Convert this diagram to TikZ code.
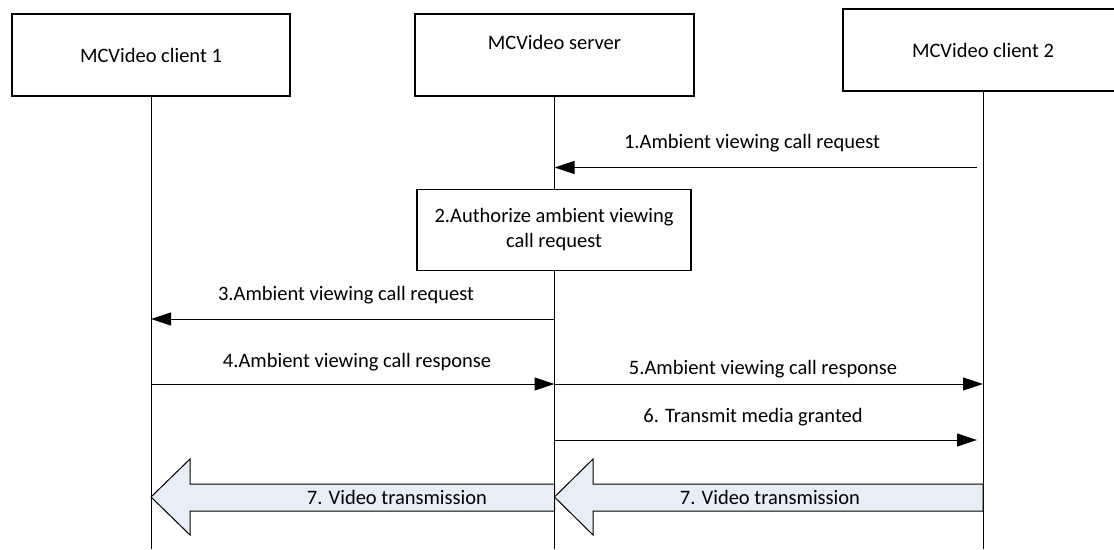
\documentclass[tikz,border=0pt]{standalone}
\usepackage{fontspec}
\setmainfont{Carlito}
\usepackage{xcolor}
\usetikzlibrary{arrows.meta, positioning, calc}

\definecolor{vidfill}{RGB}{231,238,248}
\newcommand{\msgfont}{\fontsize{20.5}{25}\selectfont}

\begin{document}
\begin{tikzpicture}[
    x=1pt, y=-1pt,
    entity/.style={rectangle, draw, line width=1.2pt, minimum width=#1, minimum height=82pt, font=\msgfont, align=center, inner sep=0pt, fill=white},
    life/.style={line width=1pt},
    msg/.style={-{Triangle[length=20pt, width=13pt]}, line width=1pt},
    lbl/.style={font=\msgfont, inner sep=0pt},
    vid/.style={draw, line width=1pt, fill=vidfill, line join=miter},
]
\clip (0,0) rectangle (1114,549);

% Entities
\node[entity=278pt] (c1) at (151,55) {MCVideo client 1};
\node[entity=279pt] (srv) at (554.5,55) {MCVideo server\\~};
\node[entity=280pt] (c2) at (983,50) {MCVideo client 2};

% Message levels
\coordinate (bottom) at (0,549);
\coordinate (m1) at (0,167.5);
\coordinate (m3) at (0,319);
\coordinate (m4) at (0,384);
\coordinate (m6) at (0,440);
\coordinate (v) at (0,497);

% Lifelines
\draw[life] (c1) -- (c1 |- bottom);
\draw[life] (srv) -- (srv |- bottom);
\draw[life] (c2) -- (c2 |- bottom);

% Authorization
\node[entity=274pt, minimum height=81pt] (auth) at (554,230) {2.Authorize ambient viewing\\call request};

% Messages
\draw[msg, shorten <=6pt] (c2 |- m1) -- (srv |- m1);
\node[lbl] (l1) at (752,143) {1.Ambient viewing call request};

\draw[msg] (srv |- m3) -- (c1 |- m3);
\node[lbl] (l3) at (346,295) {3.Ambient viewing call request};

\draw[msg] (c1 |- m4) -- (srv |- m4);
\node[lbl] (l4) at (357,362) {4.Ambient viewing call response};

\draw[msg] (srv |- m4) -- (c2 |- m4);
\node[lbl] (l5) at (763,369) {5.Ambient viewing call response};

\draw[msg, shorten >=6pt] (srv |- m6) -- (c2 |- m6);
\node[lbl] (l6) at (753,417) {6. Transmit media granted};

% Video transmission
\draw[vid] (srv |- 0,484) -- (190,484) -- (190,459) -- (c1 |- v) -- (190,535) -- (190,511) -- (srv |- 0,511) -- cycle;
\draw[vid] (c2 |- 0,484) -- (593,484) -- (593,459) -- (srv |- v) -- (593,535) -- (593,511) -- (c2 |- 0,511) -- cycle;
\node[lbl] (v1) at (397,497) {7. Video transmission};
\node[lbl] (v2) at (770,497) {7. Video transmission};

\end{tikzpicture}
\end{document}
